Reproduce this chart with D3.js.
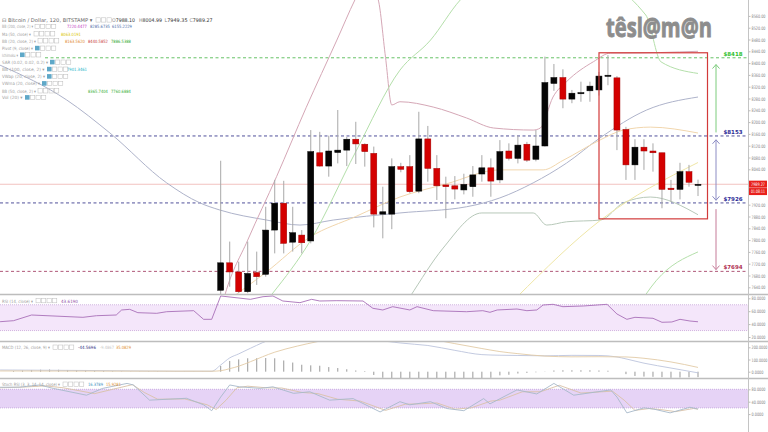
<!DOCTYPE html>
<html><head><meta charset="utf-8">
<script src="https://cdn.jsdelivr.net/npm/d3@7"></script>
<style>body{margin:0;background:#fff;} svg{display:block;font-family:"DejaVu Sans",sans-serif;}</style>
</head><body><svg id="c" width="768" height="432"></svg>
<script>
// ---------- DATA ----------
const candleOpen  = [7630,7723,7692,7625,7690,7684,7834,7925,7793,7817,7797,8096,8051,8097,8105,8142,8125,8094,7888,7888,8049,8049,7966,8143,8043,7987,7984,7970,7981,8024,8045,8004,8102,8077,8125,8074,8119,8331,8351,8278,8297,8306,8309,8356,8350,8175,8055,8115,8102,8096,7976,7972,8032,7988.10];
const candleHigh  = [8069,7795,7727,7795,7761,7913,8004,8001,7913,7834,8173,8167,8154,8241,8150,8201,8128,8117,7981,8077,8062,8088,8235,8187,8088,8015,8017,8025,8051,8088,8077,8139,8128,8154,8133,8173,8422,8397,8379,8309,8337,8337,8370,8427,8356,8184,8142,8142,8128,8096,8004,8062,8055,8004.99];
const candleLow   = [7615,7642,7620,7620,7648,7676,7755,7755,7761,7755,7789,8049,8015,8060,8051,8058,8049,7843,7806,7837,8030,7959,7959,7998,7936,7874,7938,7955,7947,7998,7947,7993,8070,8060,8065,8067,8117,8306,8247,8264,8269,8269,8290,8325,8105,8004,8004,8038,8032,7908,7930,7938,7981,7949.35];
const candleClose = [7723,7692,7625,7687,7676,7834,7925,7789,7825,7791,8100,8051,8102,8105,8142,8126,8100,7888,7896,8049,8040,7964,8143,8043,7984,7981,7973,7989,8021,8045,8000,8100,8077,8122,8071,8119,8334,8351,8278,8298,8300,8322,8356,8359,8173,8055,8115,8102,8096,7972,7971,8032,7996,7989.27];

// overlay lines: [bar index, price]
const bb200Upper = [[-24.5,8393],[-17.1,8275],[-12.3,8163],[-6,7994],[-2.3,7926],[-0.1,7902],[5.1,7868],[8.8,7851],[12.5,7868],[19.9,7892],[27.3,7913],[31,7943],[34.7,7994],[38.4,8061],[42.1,8146],[47.3,8241],[53,8285]];
const bb20Upper = [[0,7560],[0.5,7617],[3,7800],[6.2,8015],[9.5,8250],[12.9,8478],[14.9,8614],[16.2,8690],[17.5,8614],[18.3,8420],[19,8258],[19.9,8269],[23.6,8251],[27.3,8214],[30.3,8180],[34.7,8173],[35.5,8180],[36.9,8285],[38.4,8337],[41.4,8405],[43.3,8434],[44.7,8434],[53,8440]];
const bb20Basis = [[1,7600],[5,7690],[9.9,7810],[15,7880],[19.9,7946],[25,7990],[31,8038],[35.8,8038],[38,8070],[42.1,8139],[44.7,8173],[47.7,8183],[53,8163]];
const bb20Lower = [[20,7560],[21,7607],[24.7,7773],[29,7892],[34.7,7892],[36.2,7851],[38.4,7862],[42.2,7868],[44.7,7926],[47.7,7946],[53,7886]];
const bb50Upper = [[5.7,7617],[10,7800],[15,8100],[19.9,8376],[23.3,8478],[26.6,8614],[30,8700],[40,8700],[47.2,8563],[48.9,8404],[53,8365]];
const bb50Lower = [[46,7560],[48.4,7664],[53,7760]];
const ma50 = [[32.9,7607],[42.2,7868],[53,8063]];

const levels = [8418, 8153, 7926, 7694];
const levelLabels = ["$8418","$8153","$7926","$7694"];
const priceTicks = d3.range(7640, 8561, 40);

// RSI [bar index, value]
const rsi = [[-24.5,43.7],[-23,45.3],[-21,54.1],[-15.3,50.5],[-13.8,53],[-11.6,54.1],[-11,61.9],[-10.1,62.9],[-9.2,57.7],[-7.1,56.7],[-6,59.2],[-3,60.8],[-1.9,47.4],[-1,47.4],[0,83.6],[3.3,78.4],[4.7,82.5],[5.8,83.6],[6.9,75.8],[8.8,73.2],[10.1,78.4],[11,75.8],[12.9,76.3],[15.8,75.8],[16.9,64.5],[18,61.9],[19.1,67],[21,61.9],[21.8,67],[23.6,60.8],[27.3,59.2],[29.1,60.8],[29.9,58.3],[30.7,61.9],[32.9,63.4],[34,60.8],[35.1,61.9],[35.8,69.6],[36.9,70.7],[38,67],[40.3,68.1],[42.9,70.7],[44,55.7],[45.1,47.4],[46,50.5],[48,49],[49,42.8],[50.1,43.3],[51,47.4],[52.1,44.8],[53,43.6]];
const rsiTicks = [80,60,40,20];

// MACD
const macdHist = [6,10,14,16,18,16,14,12,10,8,6,4,3,2,2,3,3,2,2,2,1,1,2, 47,88,101,110,110,112,110,92,75,57,52,49,38,30,20,10,5,-27,-50,-55,-55,-55,-55,-55,-55,-55,-55,-55,-55,-55,-50,-30,-25,-15,-10,-5,2,10,12,12,12,12,10,8,0,-20,-35,-40,-42,-45,-50,-48,-46,-44.57];
const macdHistStart = -23;
const macdLine = [[-24.5,14],[-15,10],[-5,4],[-1,4],[0,55],[1,113],[2,146],[3.3,192],[6,270],[8.5,285],[10.7,295],[13,310],[16,305],[17,273],[20,235],[23,215],[26,175],[29,140],[31,135],[33,133],[36,130],[39,134],[42,133],[44,121],[45,105],[47,70],[50,30],[53,-9.5]];
const signalLine = [[-24.5,6],[-1,4],[0,8],[1,25],[2,45],[3.3,82],[6,160],[8.5,210],[10.7,246],[13,280],[16,300],[20,290],[23,270],[26,230],[29,190],[31,165],[33,148],[36,128],[39,122],[42,123],[45,121],[47,110],[50,80],[53,35]];
const macdTicks = [200,100,0];

// Stoch RSI
const stochK = [[-24.5,86.6],[-22.3,87],[-20.1,94],[-18.6,83],[-14.9,61],[-13.1,83],[-10.4,99],[-9.7,94],[-7.9,45],[-3.8,51],[-1.9,30],[-1,11],[0,55],[1,94],[2.1,88],[4.4,83],[5.8,88],[8.1,67],[9.9,72],[12.1,45],[14.7,50],[17.7,7],[19.9,40],[21,30],[23.3,40],[25.1,18],[27,11],[29.2,50],[29.9,33],[32.9,78],[35.1,65],[37,99],[39.2,61],[43.3,78],[44,55],[45.1,4],[47,20],[48.1,16],[49.9,4],[52.1,22],[53,16.4]];
const stochD = [[-24.5,85],[-22,87],[-19.5,91],[-17.5,85],[-14,66],[-12,80],[-9.8,95],[-8.5,70],[-7,48],[-4,49],[-1.5,30],[-0.5,15],[0.6,45],[1.8,85],[3,90],[5,85],[6.8,84],[9,70],[10.8,66],[13,48],[15.5,42],[18.3,12],[20.5,32],[22,33],[24,36],[26,16],[27.8,20],[30,42],[31,45],[33.5,72],[35.5,72],[37.6,93],[40,68],[43.5,74],[44.8,45],[46,12],[47.6,18],[49,14],[50.5,8],[52.5,18],[53,15.9]];
const stochTicks = [80,40,0];

// ---------- DRAW ----------
const svg = d3.select('#c');
const AX = 748.5;
const x = d3.scaleLinear().domain([0,53]).range([220.7,698]);
const yP = d3.scaleLinear().domain([7640,8120]).range([287.3,145.7]);
const yR = d3.scaleLinear().domain([20,80]).range([337,298.3]);
const yM = d3.scaleLinear().domain([0,200]).range([371.7,347.3]);
const yS = d3.scaleLinear().domain([0,80]).range([414.1,389.3]);

// squeeze a text horizontally to a target width (keeps bbox honest)
function fit(sel, x0, y0, target){
  const n = sel.node(); const w = n.getComputedTextLength();
  const s = w>0 ? Math.min(1, target/w) : 1;
  sel.attr('x',0).attr('y',0).attr('transform',`translate(${x0},${y0}) scale(${s},1)`);
  return sel;
}

const defs = svg.append('defs');
function clip(id,y0,y1){defs.append('clipPath').attr('id',id).append('rect').attr('x',0).attr('y',y0).attr('width',AX).attr('height',y1-y0);}
clip('cp',0,294);clip('cr',295,341);clip('cm',342,378);clip('cs',379,432);

const gP = svg.append('g').attr('clip-path','url(#cp)');
const gR = svg.append('g').attr('clip-path','url(#cr)');
const gM = svg.append('g').attr('clip-path','url(#cm)');
const gS = svg.append('g').attr('clip-path','url(#cs)');

// RSI band
gR.append('rect').attr('x',0).attr('width',AX).attr('y',yR(70)).attr('height',yR(30)-yR(70)).attr('fill','#f4e6fa');
[70,30].forEach(v=>gR.append('line').attr('x1',0).attr('x2',AX).attr('y1',yR(v)).attr('y2',yR(v)).attr('stroke','#c8a6d8').attr('stroke-dasharray','1,1').attr('stroke-width',0.8));
// Stoch band
gS.append('rect').attr('x',0).attr('width',AX).attr('y',yS(80)).attr('height',yS(20)-yS(80)).attr('fill','#e6d3f6');
[80,20].forEach(v=>gS.append('line').attr('x1',0).attr('x2',AX).attr('y1',yS(v)).attr('y2',yS(v)).attr('stroke','#c0a0dc').attr('stroke-dasharray','1,1').attr('stroke-width',0.8));

// levels
const levelColors = ['#66c266','#50509a','#50509a','#b05878'];
levels.forEach((v,k)=>{
  gP.append('line').attr('x1',k===0?45:0).attr('x2',AX).attr('y1',yP(v)).attr('y2',yP(v))
    .attr('stroke',levelColors[k]).attr('stroke-width',1).attr('stroke-dasharray','3,2.5');
});
gP.append('line').attr('x1',0).attr('x2',AX).attr('y1',yP(candleClose[53])).attr('y2',yP(candleClose[53])).attr('stroke','#efb4b0').attr('stroke-width',0.8);

// overlay lines
const lp = d3.line().x(d=>x(d[0])).y(d=>yP(d[1])).curve(d3.curveMonotoneX);
[[bb200Upper,'#aeb3ca'],[bb20Upper,'#d5a7b6'],[bb20Basis,'#f1d6ad'],[bb20Lower,'#b7c8b9'],[bb50Upper,'#b4dfaa'],[bb50Lower,'#b4dfaa'],[ma50,'#efe6a6']]
 .forEach(([d,c])=>gP.append('path').attr('d',lp(d)).attr('fill','none').attr('stroke',c).attr('stroke-width',1));

// candles
const idx = d3.range(candleOpen.length);
gP.selectAll('line.w').data(idx).join('line').attr('class','w')
  .attr('x1',i=>x(i)).attr('x2',i=>x(i)).attr('y1',i=>yP(candleHigh[i])).attr('y2',i=>yP(candleLow[i]))
  .attr('stroke','#a8a8a8').attr('stroke-width',1);
gP.selectAll('rect.b').data(idx).join('rect').attr('class','b')
  .attr('x',i=>x(i)-3).attr('width',6)
  .attr('y',i=>yP(Math.max(candleOpen[i],candleClose[i])))
  .attr('height',i=>Math.max(1.2,Math.abs(yP(candleOpen[i])-yP(candleClose[i]))))
  .attr('fill',i=>candleClose[i]>=candleOpen[i]?'#050505':'#d40000')
  .attr('stroke',i=>candleClose[i]>=candleOpen[i]?'#000':'#a00000').attr('stroke-width',0.5);

// red rectangle
svg.append('rect').attr('x',599).attr('y',yP(8435)).attr('width',108.5).attr('height',yP(7872)-yP(8435))
  .attr('fill','none').attr('stroke','#d23a3a').attr('stroke-width',1.2);

// arrows
function arrow(y0,y1,c,top,bot){
  svg.append('line').attr('x1',716).attr('x2',716).attr('y1',y0).attr('y2',y1).attr('stroke',c).attr('stroke-width',1);
  if(top) svg.append('path').attr('d',`M712.5,${y0+4}L716,${y0}L719.5,${y0+4}`).attr('fill','none').attr('stroke',c).attr('stroke-width',1);
  if(bot) svg.append('path').attr('d',`M712.5,${y1-4}L716,${y1}L719.5,${y1-4}`).attr('fill','none').attr('stroke',c).attr('stroke-width',1);
}
arrow(yP(8395),yP(8165),'#7ccc7c',true,false);
arrow(yP(8140),yP(7935),'#8c8cc4',true,true);
arrow(yP(7905),yP(7700),'#c57a98',false,true);

// level labels
const labelColors = ['#2fbf2f','#2b2b96','#2b2b96','#b0304f'];
levels.forEach((v,k)=>svg.append('text').attr('x',733).attr('y',yP(v)-2).attr('text-anchor','middle')
  .attr('font-size',5.5).attr('font-weight','bold').attr('fill',labelColors[k]).text(levelLabels[k]));

// logo
fit(svg.append('text').attr('font-family','"Open Sans",sans-serif').attr('font-weight','bold')
  .attr('font-size',27).attr('fill','#8d8d8d').attr('stroke','#8d8d8d').attr('stroke-width',0.9).text('têsl@m@n'), 606, 37, 106);

// RSI line
const lr = d3.line().x(d=>x(d[0])).y(d=>yR(d[1]));
gR.append('path').attr('d',lr(rsi)).attr('fill','none').attr('stroke','#a86fb8').attr('stroke-width',0.9);

// MACD
const histIdx = d3.range(macdHist.length);
gM.selectAll('line.h').data(histIdx).join('line').attr('class','h')
  .attr('x1',k=>x(k+macdHistStart)).attr('x2',k=>x(k+macdHistStart))
  .attr('y1',yM(0)).attr('y2',k=>yM(macdHist[k])).attr('stroke','#999').attr('stroke-width',1);
const lm = d3.line().x(d=>x(d[0])).y(d=>yM(d[1])).curve(d3.curveMonotoneX);
gM.append('path').attr('d',lm(macdLine)).attr('fill','none').attr('stroke','#bcc4dc').attr('stroke-width',0.9);
gM.append('path').attr('d',lm(signalLine)).attr('fill','none').attr('stroke','#e2cba6').attr('stroke-width',0.9);

// Stoch
const ls = d3.line().x(d=>x(d[0])).y(d=>yS(d[1]));
gS.append('path').attr('d',ls(stochD)).attr('fill','none').attr('stroke','#d9c2a8').attr('stroke-width',0.9);
gS.append('path').attr('d',ls(stochK)).attr('fill','none').attr('stroke','#a7b9c9').attr('stroke-width',0.9);

// separators & axis line
[294.5,341.5,378.5].forEach(y=>svg.append('line').attr('x1',0).attr('x2',768).attr('y1',y).attr('y2',y).attr('stroke','#bdbdbd').attr('stroke-width',1.3));
svg.append('line').attr('x1',AX).attr('x2',AX).attr('y1',0).attr('y2',432).attr('stroke','#c4c4c4').attr('stroke-width',1);

// axes
function styleAxis(g){
  g.select('.domain').remove();
  g.selectAll('line').attr('stroke','#bbb');
  g.selectAll('text').attr('fill','#888').attr('font-size',4.6).attr('font-family','"DejaVu Sans",sans-serif').attr('dy',null)
   .each(function(){
     const t=d3.select(this); const yy=+t.attr('y')||0;
     fit(t, 3, 1.6, this.textContent.length*2.0);
   });
}
const priceVisible = priceTicks.filter(v=>{const yy=yP(v);return yy<177||yy>197;});
svg.append('g').attr('transform',`translate(${AX},0)`).call(d3.axisRight(yP).tickValues(priceVisible).tickSize(2).tickPadding(1).tickFormat(d3.format('.2f'))).call(styleAxis);
svg.append('g').attr('transform',`translate(${AX},0)`).call(d3.axisRight(yR).tickValues(rsiTicks).tickSize(2).tickPadding(1).tickFormat(d3.format('.4f'))).call(styleAxis);
svg.append('g').attr('transform',`translate(${AX},0)`).call(d3.axisRight(yM).tickValues(macdTicks).tickSize(2).tickPadding(1).tickFormat(d3.format('.4f'))).call(styleAxis);
svg.append('g').attr('transform',`translate(${AX},0)`).call(d3.axisRight(yS).tickValues(stochTicks).tickSize(2).tickPadding(1).tickFormat(d3.format('.4f'))).call(styleAxis);

// price label
const py = yP(candleClose[53]);
svg.append('rect').attr('x',749).attr('y',py-3.6).attr('width',18).attr('height',7).attr('fill','#e8201c');
fit(svg.append('text').attr('font-size',4.6).attr('fill','#fff').text(d3.format('.2f')(candleClose[53])), 751, py+1.7, 14);
svg.append('rect').attr('x',749).attr('y',py+3.8).attr('width',18).attr('height',7).attr('fill','#e8201c');
fit(svg.append('text').attr('font-size',4.6).attr('fill','#fff').text('01:08:11'), 751, py+9.1, 14);

// legends
function boxes(x0,y,n){for(let k=0;k<n;k++)svg.append('rect').attr('x',x0+k*5.5).attr('y',y-4).attr('width',4.3).attr('height',4.3).attr('fill','none').attr('stroke','#bbb').attr('stroke-width',0.5);}
function icon(x0,y){svg.append('rect').attr('x',x0).attr('y',y-4.2).attr('width',4.6).attr('height',4.6).attr('fill','#5fa8c8');}
function txt(x0,y,s,c,size,len){const t=svg.append('text').attr('font-size',size||5).attr('fill',c||'#9a9a9a').text(s);
  return fit(t,x0,y,len||999);}
const legendRows = [
 {y:28.3,label:'BB (200, close, 2) ▾',w:31,bx:35,n:4,vals:[['7220.4477',67,'#c23bc2'],['8285.6735',90,'#4a6aa8'],['6155.2229',112,'#4a6aa8']]},
 {y:35.7,label:'Ma (50, close) ▾',w:29,bx:34,n:4,vals:[['8063.0191',61,'#d9c400']]},
 {y:42.7,label:'BB (20, close, 2) ▾',w:34,bx:38,n:4,vals:[['8163.5620',65,'#e0862a'],['8440.5852',88,'#c83a3a'],['7886.5388',111,'#2ea82e']]},
 {y:50,label:'Pivot (9, close) ▾',w:31,bx:35,n:4,icon:true,vals:[]},
 {y:56.7,label:'Ichimoku ▾',w:16,bx:20,n:4,icon:true,vals:[]},
 {y:64,label:'SAR (0.02, 0.02, 0.2) ▾',w:46,bx:50,n:4,icon:true,vals:[]},
 {y:71,label:'BB (100, close, 2) ▾',w:43,bx:47,n:4,icon:true,vals:[['7901.3461',67,'#22b3c8']]},
 {y:78.3,label:'VWap (20, close, 2) ▾',w:43,bx:47,n:4,icon:true,vals:[]},
 {y:85.3,label:'VWma (20, close) ▾',w:38,bx:42,n:4,icon:true,vals:[]},
 {y:92.7,label:'BB (50, close, 2) ▾',w:34,bx:38,n:4,vals:[['8365.7404',88,'#35b035'],['7760.6884',111,'#35b035']]},
 {y:99.3,label:'Vol (20) ▾',w:21,bx:25,n:4,icon:true,vals:[]}
];
legendRows.forEach(r=>{
  txt(2,r.y,r.label,'#a0a0a0',4.4,r.w);
  if(r.icon){icon(r.bx,r.y);boxes(r.bx+5.5,r.y,r.n-1);} else boxes(r.bx,r.y,r.n);
  r.vals.forEach(v=>txt(v[1],r.y,v[0],v[2],4.4,20));
});
// header
txt(2,22,'⊟ Bitcoin / Dollar, 120, BITSTAMP ▾','#666',5.2,91);
boxes(96,21.8,3);
[['O',candleOpen[53],112],['H',candleHigh[53],139],['L',candleLow[53],164.5],['C',candleClose[53],189.5]].forEach(([k,v,xx])=>{
  const t=svg.append('text').attr('font-size',5.2);
  t.append('tspan').attr('fill','#888').text(k);
  t.append('tspan').attr('fill','#333').text(d3.format('.2f')(v));
  fit(t,xx,22,23);
});
// lower pane legends
txt(2,302.5,'RSI (14, close) ▾','#a0a0a0',4.4,31); boxes(36,302.5,4); txt(61,302.5,'43.6190','#9050a8',4.4,17);
txt(2,349,'MACD (12, 26, close, 9) ▾','#a0a0a0',4.4,48); boxes(53,349,4); txt(78,349,'-44.5696','#303080',4.4,18); txt(100,349,'-9.4867','#c8c8c8',4.4,14); txt(116,349,'35.0829','#e09030',4.4,15);
txt(2,386,'Stoch RSI (3, 3, 14, 14, close) ▾','#a0a0a0',4.4,58); boxes(63,386,4); txt(88,386,'16.3789','#3f8fc0',4.4,15); txt(106,386,'15.9281','#e09030',4.4,15);
</script></body></html>
